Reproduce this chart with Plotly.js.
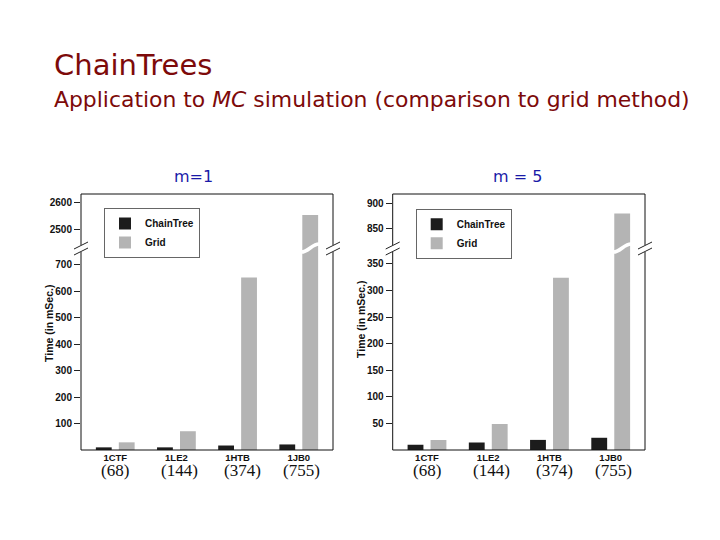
<!DOCTYPE html>
<html>
<head>
<meta charset="utf-8">
<script src="https://cdn.plot.ly/plotly-3.0.1.min.js"></script>
<style>html,body{margin:0;padding:0;background:#fff;}#chart{width:720px;height:540px;}</style>
</head>
<body>
<div id="chart"></div>
<script>
// ---- data ----
const categories = ["1CTF", "1LE2", "1HTB", "1JB0"];
const sizes = ["(68)", "(144)", "(374)", "(755)"];
const chainTreeM1 = [10, 10, 17, 21];
const gridM1 = [29, 71, 652, 2553];
const chainTreeM5 = [10, 14, 19, 23];
const gridM5 = [19, 49, 324, 880];
const lowTicksM1 = [100, 200, 300, 400, 500, 600, 700];
const highTicksM1 = [2500, 2600];
const lowTicksM5 = [50, 100, 150, 200, 250, 300, 350];
const highTicksM5 = [850, 900];

// ---- styling / layout ----
const BLACK = "#1c1c1c", GREY = "#b4b4b4";
const H = 540, W = 720;
const py = v => (H - v) / H;   // pixel y -> paper
const px = v => v / W;         // pixel x -> paper
const yBot = py(450), yBrk = py(248), yTop = py(194);
const xdomL = [px(81), px(333)], xdomR = [px(392.7), px(645)];

function bars(x, y, name, color, xa, ya, legend, show) {
  return {type: "bar", x: x, y: y, name: name, xaxis: xa, yaxis: ya,
    marker: {color: color, line: {width: 0}}, legend: legend, showlegend: show,
    hoverinfo: "skip"};
}
const traces = [
  bars(categories, chainTreeM1, "ChainTree", BLACK, "x", "y", "legend", true),
  bars(categories, gridM1, "Grid", GREY, "x", "y", "legend", true),
  bars(categories, chainTreeM1, "ChainTree", BLACK, "x", "y2", "legend", false),
  bars(categories, gridM1, "Grid", GREY, "x", "y2", "legend", false),
  bars(categories, chainTreeM5, "ChainTree", BLACK, "x2", "y3", "legend2", true),
  bars(categories, gridM5, "Grid", GREY, "x2", "y3", "legend2", true),
  bars(categories, chainTreeM5, "ChainTree", BLACK, "x2", "y4", "legend2", false),
  bars(categories, gridM5, "Grid", GREY, "x2", "y4", "legend2", false)
];

const SANS = "Liberation Sans, Arial, sans-serif";
const tickFont = {family: SANS, size: 10, color: "#111", weight: "bold"};
const xTickFont = {family: SANS, size: 9.5, color: "#111", weight: "bold"};
const legendFont = {family: SANS, size: 10, color: "#111", weight: "bold"};
function yax(domain, range, ticks, anchor) {
  return {domain: domain, range: range, tickmode: "array", tickvals: ticks,
    ticks: "outside", ticklen: 6, tickcolor: "#222", tickwidth: 1,
    showgrid: false, zeroline: false, showline: false, tickfont: tickFont,
    anchor: anchor, fixedrange: true};
}
function xax(domain, anchor) {
  return {domain: domain, range: [-0.56, 3.56], type: "category", anchor: anchor,
    showgrid: false, zeroline: false, showline: false, ticks: "",
    ticklabelstandoff: 0, tickfont: xTickFont, fixedrange: true};
}

function note(text, x, y, font, extra) {
  return Object.assign({text: text, xref: "paper", yref: "paper", x: x, y: y,
    xanchor: "center", yanchor: "middle", showarrow: false, font: font}, extra || {});
}
const serifFont = {family: "Liberation Serif, DejaVu Serif, serif", size: 17, color: "#111"};
const titleFont = {family: "DejaVu Sans, sans-serif", size: 29, color: "#7d0a0a"};
const subFont = {family: "DejaVu Sans, sans-serif", size: 21.9, color: "#7d0a0a"};
const panelFont = {family: "DejaVu Sans, sans-serif", size: 16, color: "#1a1aa8"};
const axisTitleFont = {family: SANS, size: 10.5, color: "#111", weight: "bold"};
const annotations = [
  note("ChainTrees", px(52), py(65), titleFont, {xanchor: "left"}),
  note("Application to <i>MC</i> simulation (comparison to grid method)", px(52), py(99), subFont, {xanchor: "left"}),
  note("m=1", px(193), py(177), panelFont),
  note("m = 5", px(517), py(177), panelFont),
  note("Time (in mSec.)", px(49), py(323), axisTitleFont, {textangle: -90}),
  note("Time (in mSec.)", px(361), py(320), axisTitleFont, {textangle: -90})
];
const sizeShift = [0, 3, 5, 3];
categories.forEach((c, i) => {
  ["x", "x2"].forEach(xr => {
    annotations.push({text: sizes[i], xref: xr, yref: "paper", x: c, y: py(470), xshift: sizeShift[i],
      xanchor: "center", yanchor: "middle", showarrow: false, font: serifFont});
  });
});

// frame + axis-break decorations
const shapes = [];
[xdomL, xdomR].forEach(d => {
  shapes.push({type: "rect", xref: "paper", yref: "paper", x0: d[0], x1: d[1], y0: yBot, y1: yTop,
    line: {color: "#111", width: 1}});
  [d[0], d[1]].forEach(xe => {
    const xp = xe * W;
    shapes.push({type: "rect", xref: "paper", yref: "paper", x0: px(xp - 2), x1: px(xp + 2),
      y0: py(252), y1: py(245), fillcolor: "#fff", line: {width: 0}});
    shapes.push({type: "line", xref: "paper", yref: "paper", x0: px(xp - 7), y0: py(249), x1: px(xp + 7), y1: py(242),
      line: {color: "#222", width: 1}});
    shapes.push({type: "line", xref: "paper", yref: "paper", x0: px(xp - 7), y0: py(255), x1: px(xp + 7), y1: py(248),
      line: {color: "#222", width: 1}});
  });
});
// white S-shaped break across the tallest grid bar of each panel
["x", "x2"].forEach(xr => {
  const c = 3 + 0.1875, hw = 0.16;
  const yb = 248;
  shapes.push({type: "path", xref: xr, yref: "paper",
    path: `M ${c - hw},${py(yb + 4)} C ${c - 0.03},${py(yb + 5)} ${c + 0.03},${py(yb - 5)} ${c + hw},${py(yb - 4)}`,
    line: {color: "#fff", width: 3.5}});
});

const layout = {
  width: W, height: H, margin: {l: 0, r: 0, t: 0, b: 0},
  paper_bgcolor: "#fff", plot_bgcolor: "rgba(0,0,0,0)",
  barmode: "group", bargap: 0.25, bargroupgap: 0.31,
  xaxis: xax(xdomL, "y"),
  xaxis2: xax(xdomR, "y3"),
  yaxis: yax([yBot, yBrk], [0, 764], lowTicksM1, "x"),
  yaxis2: yax([yBrk, yTop], [2428, 2633], highTicksM1, "x"),
  yaxis3: yax([yBot, yBrk], [0, 380], lowTicksM5, "x2"),
  yaxis4: yax([yBrk, yTop], [813, 918], highTicksM5, "x2"),
  legend: {x: px(104), y: py(208), xanchor: "left", yanchor: "top", bgcolor: "#fff",
    bordercolor: "#666", borderwidth: 1, font: legendFont, tracegroupgap: 0, itemwidth: 30},
  legend2: {x: px(415.7), y: py(208.7), xanchor: "left", yanchor: "top", bgcolor: "#fff",
    bordercolor: "#666", borderwidth: 1, font: legendFont, tracegroupgap: 0, itemwidth: 30},
  annotations: annotations, shapes: shapes, showlegend: true
};

Plotly.newPlot("chart", traces, layout, {displayModeBar: false, staticPlot: true});
</script>
</body>
</html>
